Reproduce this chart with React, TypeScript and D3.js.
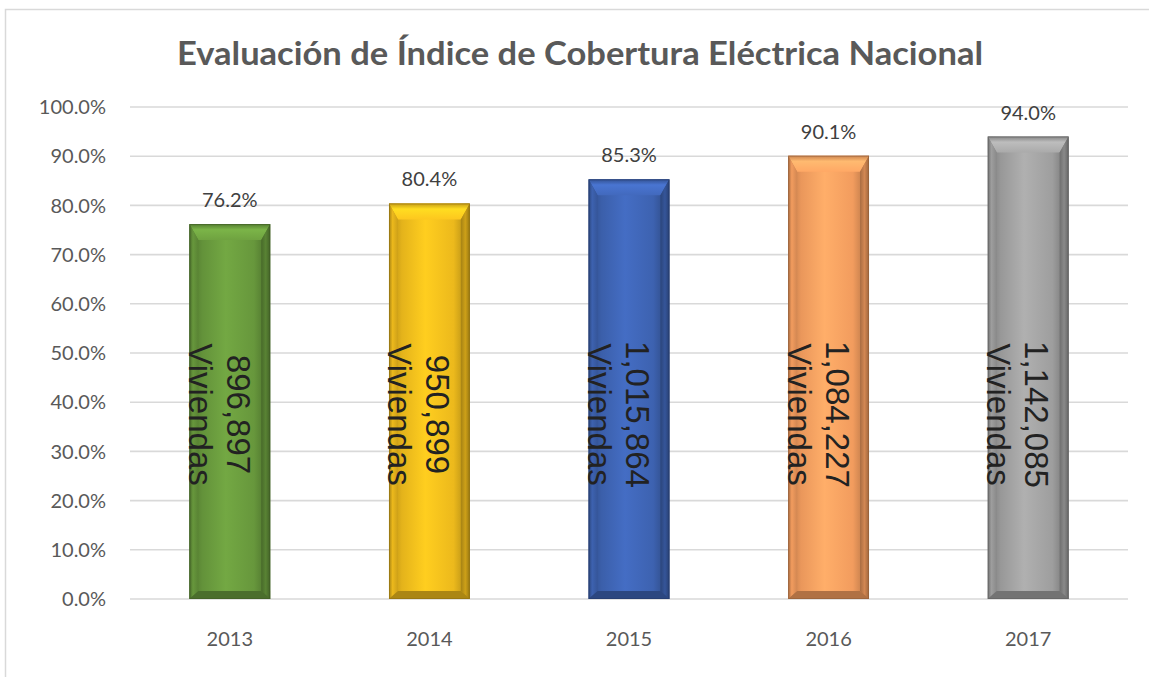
import React from "react";
import * as d3 from "d3";

const years = ["2013", "2014", "2015", "2016", "2017"];
const coverage = [0.762, 0.804, 0.853, 0.901, 0.94];
const homes = [896897, 950899, 1015864, 1084227, 1142085];
const barColors = ["#67973c", "#ecb91c", "#3d62b0", "#f29c5e", "#9e9e9e"];
const yTicks = [0, 0.1, 0.2, 0.3, 0.4, 0.5, 0.6, 0.7, 0.8, 0.9, 1.0];

const W = 1149;
const H = 677;
const margin = { top: 107, right: 21, bottom: 78, left: 130 };
const font = "Lato, 'Open Sans', sans-serif";

export default function App() {
  const x = d3
    .scaleBand()
    .domain(years)
    .range([margin.left, W - margin.right])
    .paddingInner(0.595)
    .paddingOuter(0.2975);
  const y = d3
    .scaleLinear()
    .domain([0, 1])
    .range([H - margin.bottom, margin.top]);
  const pct = d3.format(".1%");
  const num = d3.format(",");

  const side = 9;
  const topB = 16;
  const botB = 8;

  return (
    <svg
      width={W}
      height={H}
      style={{ position: "absolute", left: 0, top: 0, background: "#fff" }}
    >
      <defs>
        {barColors.map((c, i) => {
          const base = d3.color(c)!;
          return (
            <React.Fragment key={i}>
              <linearGradient id={"face" + i} x1="0" x2="1" y1="0" y2="0">
                <stop offset="0" stopColor={base.darker(0.8).toString()} />
                <stop offset="0.16" stopColor={base.darker(0.1).toString()} />
                <stop offset="0.45" stopColor={base.brighter(0.3).toString()} />
                <stop offset="0.8" stopColor={base.toString()} />
                <stop offset="1" stopColor={base.darker(1).toString()} />
              </linearGradient>
              <linearGradient id={"top" + i} x1="0" x2="0" y1="0" y2="1">
                <stop offset="0" stopColor={base.darker(0.5).toString()} />
                <stop offset="0.35" stopColor={base.brighter(0.5).toString()} />
                <stop offset="1" stopColor={base.brighter(0.2).toString()} />
              </linearGradient>
              <linearGradient id={"left" + i} x1="0" x2="1" y1="0" y2="0">
                <stop offset="0" stopColor={base.darker(1).toString()} />
                <stop offset="0.4" stopColor={base.toString()} />
                <stop offset="1" stopColor={base.darker(0.4).toString()} />
              </linearGradient>
              <linearGradient id={"right" + i} x1="0" x2="1" y1="0" y2="0">
                <stop offset="0" stopColor={base.darker(1).toString()} />
                <stop offset="0.5" stopColor={base.darker(0.4).toString()} />
                <stop offset="1" stopColor={base.darker(1.2).toString()} />
              </linearGradient>
            </React.Fragment>
          );
        })}
      </defs>

      {/* chart frame */}
      <rect
        x={5.5}
        y={9.5}
        width={W + 20}
        height={H + 20}
        fill="none"
        stroke="#d9d9d9"
        strokeWidth={1.5}
      />

      <text
        x={580}
        y={65}
        textAnchor="middle"
        fontFamily={font}
        fontWeight={700}
        fontSize={32}
        fill="#595959"
        textLength={806}
        lengthAdjust="spacingAndGlyphs"
      >
        Evaluación de Índice de Cobertura Eléctrica Nacional
      </text>

      {/* grid + y labels */}
      {yTicks.map((t) => (
        <g key={t}>
          <line
            x1={margin.left}
            x2={W - margin.right}
            y1={y(t)}
            y2={y(t)}
            stroke="#d9d9d9"
            strokeWidth={1.6}
          />
          <text
            x={106}
            y={y(t)}
            dy="0.36em"
            textAnchor="end"
            fontFamily={font}
            fontSize={20}
            fill="#595959"
          >
            {pct(t)}
          </text>
        </g>
      ))}

      {/* bars */}
      {years.map((yr, i) => {
        const x0 = x(yr)!;
        const x1 = x0 + x.bandwidth();
        const y0 = y(coverage[i]);
        const y1 = y(0);
        const cx = x0 + x.bandwidth() / 2;
        const cy = y(0.375);
        const edge = d3.color(barColors[i])!.darker(1.4).toString();
        const pts = (p: number[][]) => p.map((q) => q.join(",")).join(" ");
        return (
          <g key={yr}>
            <rect
              x={x0}
              y={y0}
              width={x1 - x0}
              height={y1 - y0}
              fill={`url(#face${i})`}
            />
            <polygon
              points={pts([
                [x0, y0],
                [x1, y0],
                [x1 - side, y0 + topB],
                [x0 + side, y0 + topB],
              ])}
              fill={`url(#top${i})`}
            />
            <polygon
              points={pts([
                [x0, y0],
                [x0 + side, y0 + topB],
                [x0 + side, y1 - botB],
                [x0, y1],
              ])}
              fill={`url(#left${i})`}
            />
            <polygon
              points={pts([
                [x1, y0],
                [x1, y1],
                [x1 - side, y1 - botB],
                [x1 - side, y0 + topB],
              ])}
              fill={`url(#right${i})`}
            />
            <polygon
              points={pts([
                [x0, y1],
                [x0 + side, y1 - botB],
                [x1 - side, y1 - botB],
                [x1, y1],
              ])}
              fill={d3.color(barColors[i])!.darker(0.9).toString()}
            />
            <rect
              x={x0 + 0.5}
              y={y0 + 0.5}
              width={x1 - x0 - 1}
              height={y1 - y0 - 1}
              fill="none"
              stroke={edge}
              strokeOpacity={0.6}
            />
            <text
              x={cx}
              y={y0 - 17}
              textAnchor="middle"
              fontFamily={font}
              fontSize={20}
              fill="#404040"
            >
              {pct(coverage[i])}
            </text>
            <g
              transform={`translate(${cx},${cy}) rotate(90)`}
              fontFamily="'Liberation Sans', Arial, sans-serif"
              fontSize={33}
              fill="#222"
              textAnchor="middle"
            >
              <text x={0} y={3}>
                {num(homes[i])}
              </text>
              <text x={0} y={41}>
                Viviendas
              </text>
            </g>
            <text
              x={cx}
              y={646}
              textAnchor="middle"
              fontFamily={font}
              fontSize={20}
              fill="#595959"
            >
              {yr}
            </text>
          </g>
        );
      })}
    </svg>
  );
}
